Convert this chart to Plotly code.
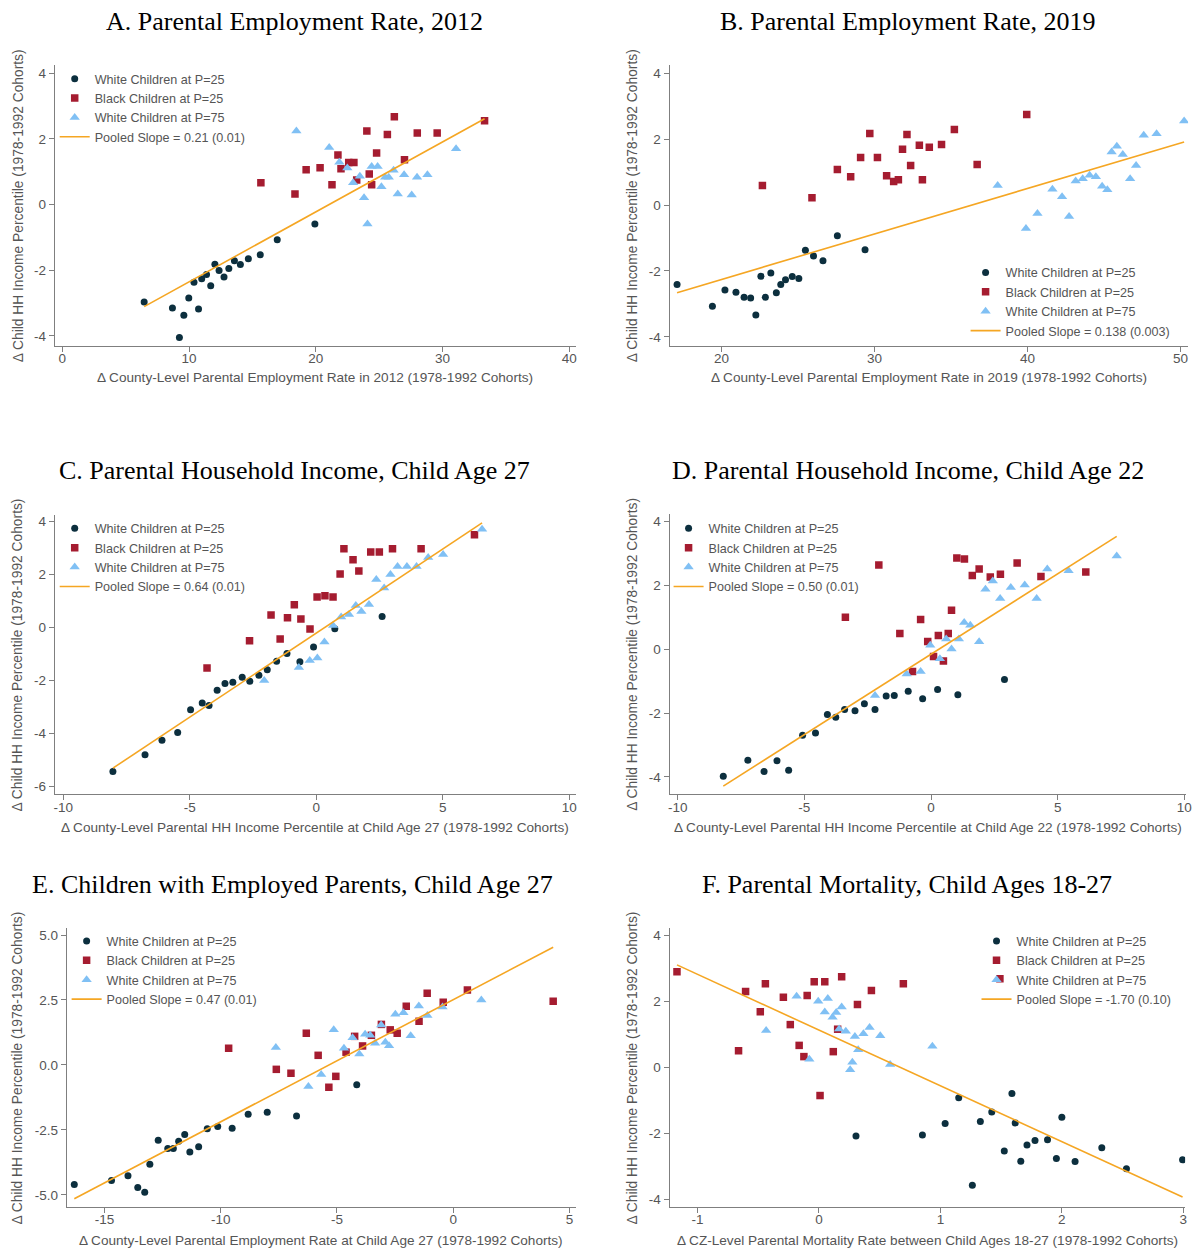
import plotly.graph_objects as go

# ---------------- DATA ----------------
# Panel A: Parental Employment Rate, 2012
A_w25_x = [6.46, 8.69, 9.59, 9.24, 9.98, 10.75, 10.39, 11.00, 11.38, 11.71, 12.04, 12.37, 12.76, 13.14, 13.58, 14.05, 14.68, 15.62, 16.96, 19.93]
A_w25_y = [-2.97, -3.15, -3.37, -4.05, -2.85, -3.18, -2.37, -2.26, -2.13, -2.47, -1.82, -2.01, -2.21, -1.95, -1.71, -1.83, -1.65, -1.53, -1.07, -0.59]
A_b25_x = [15.67, 18.36, 19.24, 20.34, 21.28, 21.75, 21.99, 22.60, 23.01, 23.23, 24.03, 24.22, 24.41, 24.80, 25.65, 26.20, 27.00, 28.01, 29.58, 33.32]
A_b25_y = [0.66, 0.32, 1.06, 1.12, 0.60, 1.51, 1.09, 1.28, 1.28, 0.75, 2.24, 0.93, 0.60, 1.57, 2.13, 2.67, 1.36, 2.18, 2.18, 2.55]
A_w75_x = [18.47, 21.06, 21.86, 22.49, 22.95, 23.48, 23.81, 24.08, 24.41, 24.88, 25.18, 25.48, 25.76, 26.14, 26.47, 26.97, 27.57, 27.99, 28.81, 31.07]
A_w75_y = [2.24, 1.74, 1.29, 1.11, 0.66, 0.86, 0.21, -0.59, 1.16, 1.16, 0.54, 0.83, 0.83, 1.04, 0.32, 0.91, 0.29, 0.83, 0.91, 1.70]
A_fit = (-4.485, 0.213)  # intercept, slope

# Panel B: Parental Employment Rate, 2019
B_w25_x = [17.09, 19.40, 20.22, 20.94, 21.47, 21.90, 22.24, 22.57, 22.86, 23.22, 23.58, 23.87, 24.18, 24.62, 25.05, 25.48, 26.01, 26.63, 27.57, 29.38]
B_w25_y = [-2.41, -3.07, -2.58, -2.65, -2.80, -2.82, -3.34, -2.16, -2.80, -2.06, -2.66, -2.41, -2.27, -2.17, -2.23, -1.37, -1.55, -1.69, -0.93, -1.36]
B_b25_x = [22.67, 25.91, 27.57, 28.44, 29.09, 29.69, 30.19, 30.79, 31.25, 31.56, 31.83, 32.12, 32.36, 32.93, 33.13, 33.58, 34.38, 35.22, 36.71, 39.95]
B_b25_y = [0.59, 0.22, 1.08, 0.86, 1.44, 2.17, 1.44, 0.89, 0.71, 0.77, 1.69, 2.14, 1.20, 1.81, 0.77, 1.75, 1.84, 2.29, 1.23, 2.75]
B_w75_x = [38.05, 39.90, 40.65, 41.63, 42.26, 42.72, 43.15, 43.61, 44.06, 44.47, 44.88, 45.22, 45.50, 45.84, 46.23, 46.71, 47.10, 47.60, 48.44, 50.24]
B_w75_y = [0.59, -0.71, -0.26, 0.48, 0.25, -0.35, 0.73, 0.80, 0.90, 0.86, 0.57, 0.46, 1.61, 1.78, 1.53, 0.80, 1.20, 2.12, 2.16, 2.55]
B_fit = (-5.018, 0.138)

# Panel C: Parental Household Income, Child Age 27
C_w25_x = [-8.04, -6.77, -6.10, -5.48, -4.97, -4.51, -4.24, -3.92, -3.61, -3.30, -2.93, -2.63, -2.27, -1.94, -1.57, -1.16, -0.65, -0.11, 0.73, 2.60]
C_w25_y = [-5.44, -4.80, -4.26, -3.96, -3.10, -2.85, -2.94, -2.37, -2.11, -2.06, -1.88, -2.03, -1.80, -1.59, -1.27, -0.98, -1.29, -0.73, -0.04, 0.42]
C_b25_x = [-4.32, -2.64, -1.79, -1.43, -1.14, -0.87, -0.61, -0.25, 0.03, 0.34, 0.66, 0.94, 1.09, 1.45, 1.68, 2.15, 2.49, 3.01, 4.14, 6.25]
C_b25_y = [-1.53, -0.50, 0.48, -0.43, 0.37, 0.86, 0.33, -0.05, 1.16, 1.20, 1.16, 2.03, 2.98, 2.56, 2.14, 2.86, 2.86, 2.98, 2.98, 3.51]
C_w75_x = [-2.06, -0.69, -0.26, 0.04, 0.32, 0.66, 0.98, 1.29, 1.56, 1.78, 2.08, 2.37, 2.68, 2.93, 3.21, 3.58, 3.96, 4.42, 5.01, 6.55]
C_w75_y = [-2.00, -1.51, -1.24, -1.15, -0.54, 0.08, 0.40, 0.50, 0.84, 0.61, 0.87, 1.82, 1.50, 2.01, 2.31, 2.31, 2.31, 2.65, 2.76, 3.72]
C_fit = (-0.205, 0.635)

# Panel D: Parental Household Income, Child Age 22
D_w25_x = [-8.20, -7.23, -6.59, -6.08, -5.62, -5.07, -4.56, -4.09, -3.76, -3.41, -3.00, -2.63, -2.21, -1.77, -1.45, -0.90, -0.33, 0.26, 1.06, 2.90]
D_w25_y = [-3.98, -3.48, -3.83, -3.50, -3.79, -2.70, -2.63, -2.05, -2.13, -1.89, -1.93, -1.71, -1.89, -1.47, -1.45, -1.32, -1.55, -1.26, -1.43, -0.95]
D_b25_x = [-3.38, -2.06, -1.23, -0.73, -0.41, -0.13, 0.10, 0.29, 0.49, 0.68, 0.81, 1.02, 1.32, 1.63, 1.90, 2.34, 2.74, 3.40, 4.34, 6.11]
D_b25_y = [1.00, 2.64, 0.49, -0.70, 0.93, 0.24, -0.23, 0.43, -0.37, 0.49, 1.22, 2.86, 2.83, 2.31, 2.51, 2.26, 2.35, 2.70, 2.28, 2.42]
D_w75_x = [-2.21, -0.96, -0.41, -0.03, 0.35, 0.60, 0.81, 1.10, 1.31, 1.55, 1.90, 2.15, 2.44, 2.73, 3.15, 3.70, 4.17, 4.59, 5.43, 7.33]
D_w75_y = [-1.45, -0.78, -0.70, 0.12, -0.30, 0.32, 0.01, 0.32, 0.84, 0.75, 0.23, 1.88, 2.14, 1.59, 1.93, 2.01, 1.59, 2.51, 2.46, 2.92]
D_fit = (-0.157, 0.504)

# Panel E: Children with Employed Parents, Child Age 27
E_w25_x = [-16.30, -14.70, -13.99, -13.57, -13.27, -13.05, -12.69, -12.28, -12.04, -11.81, -11.55, -11.33, -10.95, -10.58, -10.13, -9.51, -8.82, -8.00, -6.74, -4.15]
E_w25_y = [-4.60, -4.45, -4.27, -4.72, -4.90, -3.82, -2.90, -3.22, -3.22, -2.94, -2.68, -3.35, -3.15, -2.46, -2.37, -2.44, -1.90, -1.82, -1.97, -0.76]
E_b25_x = [-9.66, -7.61, -6.98, -6.32, -5.81, -5.35, -5.05, -4.61, -4.24, -3.90, -3.52, -3.09, -2.71, -2.41, -2.02, -1.47, -1.12, -0.43, 0.61, 4.30]
E_b25_y = [0.64, -0.17, -0.32, 1.22, 0.37, -0.86, -0.44, 0.49, 1.10, 0.73, 1.14, 1.56, 1.35, 1.22, 2.26, 1.68, 2.76, 2.41, 2.88, 2.45]
E_w75_x = [-7.63, -6.23, -5.68, -5.14, -4.70, -4.33, -4.04, -3.79, -3.57, -3.36, -3.10, -2.92, -2.76, -2.49, -2.14, -1.83, -1.48, -1.11, -0.46, 1.21]
E_w75_y = [0.67, -0.83, -0.37, 1.35, 0.64, 1.05, 0.42, 1.18, 1.14, 0.83, 1.54, 0.87, 0.74, 1.95, 2.01, 1.12, 2.27, 1.90, 2.23, 2.50]
E_fit = (2.511, 0.47)

# Panel F: Parental Mortality, Child Ages 18-27
F_w25_x = [0.305, 0.852, 1.039, 1.151, 1.263, 1.329, 1.423, 1.526, 1.589, 1.616, 1.662, 1.713, 1.779, 1.882, 1.955, 2.000, 2.109, 2.329, 2.532, 2.994]
F_w25_y = [-2.08, -2.05, -1.70, -0.92, -3.57, -1.64, -1.35, -2.53, -0.79, -1.68, -2.84, -2.35, -2.21, -2.19, -2.76, -1.51, -2.85, -2.43, -3.07, -2.80]
F_b25_x = [-1.169, -0.662, -0.604, -0.483, -0.441, -0.293, -0.236, -0.163, -0.124, -0.097, -0.039, 0.009, 0.048, 0.118, 0.154, 0.187, 0.317, 0.432, 0.695, 1.49]
F_b25_y = [2.90, 0.51, 2.30, 1.69, 2.54, 2.13, 1.30, 0.67, 0.33, 2.18, 2.60, -0.85, 2.60, 0.48, 1.16, 2.75, 1.91, 2.33, 2.54, 2.69]
F_w75_x = [-0.435, -0.184, -0.079, -0.006, 0.048, 0.073, 0.112, 0.142, 0.166, 0.187, 0.221, 0.257, 0.275, 0.296, 0.323, 0.366, 0.417, 0.505, 0.586, 0.934]
F_w75_y = [1.12, 2.16, 0.25, 2.01, 1.68, 2.09, 1.52, 1.67, 1.17, 1.83, 1.10, -0.07, 0.16, 0.94, 0.54, 1.02, 1.21, 0.96, 0.09, 0.64]
F_fit = (1.134, -1.69)

titles = ["A. Parental Employment Rate, 2012", "B. Parental Employment Rate, 2019",
          "C. Parental Household Income, Child Age 27", "D. Parental Household Income, Child Age 22",
          "E. Children with Employed Parents, Child Age 27", "F. Parental Mortality, Child Ages 18-27"]
xtitles = ["Δ County-Level Parental Employment Rate in 2012 (1978-1992 Cohorts)",
           "Δ County-Level Parental Employment Rate in 2019 (1978-1992 Cohorts)",
           "Δ County-Level Parental HH Income Percentile at Child Age 27 (1978-1992 Cohorts)",
           "Δ County-Level Parental HH Income Percentile at Child Age 22 (1978-1992 Cohorts)",
           "Δ County-Level Parental Employment Rate at Child Age 27 (1978-1992 Cohorts)",
           "Δ CZ-Level Parental Mortality Rate between Child Ages 18-27 (1978-1992 Cohorts)"]
ytitle = "Δ Child HH Income Percentile (1978-1992 Cohorts)"
slope_labels = ["Pooled Slope = 0.21 (0.01)", "Pooled Slope = 0.138 (0.003)", "Pooled Slope = 0.64 (0.01)",
                "Pooled Slope = 0.50 (0.01)", "Pooled Slope = 0.47 (0.01)", "Pooled Slope = -1.70 (0.10)"]
series_names = ["White Children at P=25", "Black Children at P=25", "White Children at P=75"]

xticks = [[0, 10, 20, 30, 40], [20, 30, 40, 50], [-10, -5, 0, 5, 10], [-10, -5, 0, 5, 10], [-15, -10, -5, 0, 5], [-1, 0, 1, 2, 3]]
yticks = [[-4, -2, 0, 2, 4], [-4, -2, 0, 2, 4], [-6, -4, -2, 0, 2, 4], [-4, -2, 0, 2, 4], [-5, -2.5, 0, 2.5, 5], [-4, -2, 0, 2, 4]]
ytick_decimals = [0, 0, 0, 0, 1, 0]

# ---------------- STYLE / LAYOUT ----------------
W, H = 1200, 1249
OFF = 8  # page body margin
NAVY, RED, BLUE, ORANGE = "#0c2f3e", "#a51c30", "#80c0f4", "#f5a623"
AX = "#7f7f7f"
TXT = "#555555"
SANS = "Liberation Sans, Arial, sans-serif"
SERIF = "Liberation Serif, Times New Roman, serif"


def fx(p):
    return (p - OFF) / W


def fy(p):
    return 1 - (p - OFF) / H


def lab(v, d):
    return f"{v:.{d}f}"  # plain hyphen-minus like the reference


# plot-area pixel boxes on screen (left, right, top, bottom)
boxes = [(53, 578, 64, 345), (672, 1194, 64, 345),
         (53, 578, 514, 794), (672, 1192, 513, 794),
         (65, 578, 928, 1207), (672, 1191, 928, 1207)]
xranges = [[-0.6, 40.55], [16.6, 50.5], [-10.34, 10.27], [-10.32, 10.07], [-16.63, 5.29], [-1.23, 3.015]]
yranges = [[-4.3, 4.25], [-4.27, 4.25], [-6.3, 4.27], [-4.55, 4.25], [-5.47, 5.26], [-4.23, 4.22]]
# legend anchor: (text start x px, first row center y px)
legpos = [(96, 78), (1013, 272), (96, 528), (714, 528), (108, 941), (1024, 941)]
title_pos = [(294, 21), (912, 21), (294, 470), (912, 470), (292, 884), (911, 884)]
ytitle_x = [16, 635, 16, 635, 16, 635]
xtitle_y = [377, 377, 827, 827, 1240, 1240]

data = [
    (A_w25_x, A_w25_y, A_b25_x, A_b25_y, A_w75_x, A_w75_y, A_fit),
    (B_w25_x, B_w25_y, B_b25_x, B_b25_y, B_w75_x, B_w75_y, B_fit),
    (C_w25_x, C_w25_y, C_b25_x, C_b25_y, C_w75_x, C_w75_y, C_fit),
    (D_w25_x, D_w25_y, D_b25_x, D_b25_y, D_w75_x, D_w75_y, D_fit),
    (E_w25_x, E_w25_y, E_b25_x, E_b25_y, E_w75_x, E_w75_y, E_fit),
    (F_w25_x, F_w25_y, F_b25_x, F_b25_y, F_w75_x, F_w75_y, F_fit),
]

fig = go.Figure()
layout = dict(width=W, height=H, margin=dict(l=0, r=0, t=0, b=0),
              paper_bgcolor="white", plot_bgcolor="white", showlegend=True,
              font=dict(family=SANS, color=TXT))
annotations = []

for i, (wx, wy, bx, by, tx, ty, fit) in enumerate(data):
    k = i + 1
    xa = "x" if k == 1 else f"x{k}"
    ya = "y" if k == 1 else f"y{k}"
    lg = "legend" if k == 1 else f"legend{k}"
    markers = [(wx, wy, "circle", 7, NAVY), (bx, by, "square", 7.5, RED), (tx, ty, "triangle-up", 9, BLUE)]
    for (xs, ys, sym, sz, col), name in zip(markers, series_names):
        fig.add_trace(go.Scatter(x=xs, y=ys, mode="markers", name=name, xaxis=xa, yaxis=ya, legend=lg,
                                 marker=dict(symbol=sym, size=sz, color=col, line=dict(width=0))))
    allx = wx + bx + tx
    lx = [min(allx), max(allx)]
    ly = [fit[0] + fit[1] * v for v in lx]
    fig.add_trace(go.Scatter(x=lx, y=ly, mode="lines", name=slope_labels[i], xaxis=xa, yaxis=ya, legend=lg,
                             line=dict(color=ORANGE, width=1.6)))

    l, r, t, b = boxes[i]
    axis_common = dict(showgrid=False, zeroline=False, showline=True, linecolor=AX, linewidth=1,
                       ticks="outside", ticklen=5, tickcolor=AX, tickwidth=1,
                       tickfont=dict(family=SANS, size=13.5, color=TXT), mirror=False)
    layout["xaxis" if k == 1 else f"xaxis{k}"] = dict(
        axis_common, domain=[fx(l), fx(r)], range=xranges[i], anchor=ya, ticklabelstandoff=-5,
        tickvals=xticks[i], ticktext=[lab(v, 0) for v in xticks[i]])
    layout["yaxis" if k == 1 else f"yaxis{k}"] = dict(
        axis_common, domain=[fy(b), fy(t)], range=yranges[i], anchor=xa,
        tickvals=yticks[i], ticktext=[lab(v, ytick_decimals[i]) for v in yticks[i]])
    tx0, ty0 = legpos[i]
    layout[lg] = dict(x=fx(tx0 - 43), y=fy(ty0 - 15), xanchor="left", yanchor="top",
                      bgcolor="rgba(0,0,0,0)", borderwidth=0,
                      font=dict(family=SANS, size=12.6, color=TXT), tracegroupgap=0)
    # panel title
    annotations.append(dict(text=titles[i], x=fx(title_pos[i][0]), y=fy(title_pos[i][1]), xref="paper", yref="paper",
                            xanchor="center", yanchor="middle", showarrow=False,
                            font=dict(family=SERIF, size=26, color="black")))
    # x-axis title
    annotations.append(dict(text=xtitles[i], x=fx((l + r) / 2), y=fy(xtitle_y[i]), xref="paper", yref="paper",
                            xanchor="center", yanchor="middle", showarrow=False,
                            font=dict(family=SANS, size=13.6, color=TXT)))
    # y-axis title
    annotations.append(dict(text=ytitle, x=fx(ytitle_x[i]), y=fy((t + b) / 2), xref="paper", yref="paper",
                            xanchor="center", yanchor="middle", showarrow=False, textangle=-90,
                            font=dict(family=SANS, size=13.8, color=TXT)))

layout["annotations"] = annotations
fig.update_layout(**layout)
fig.write_html("out.html")
